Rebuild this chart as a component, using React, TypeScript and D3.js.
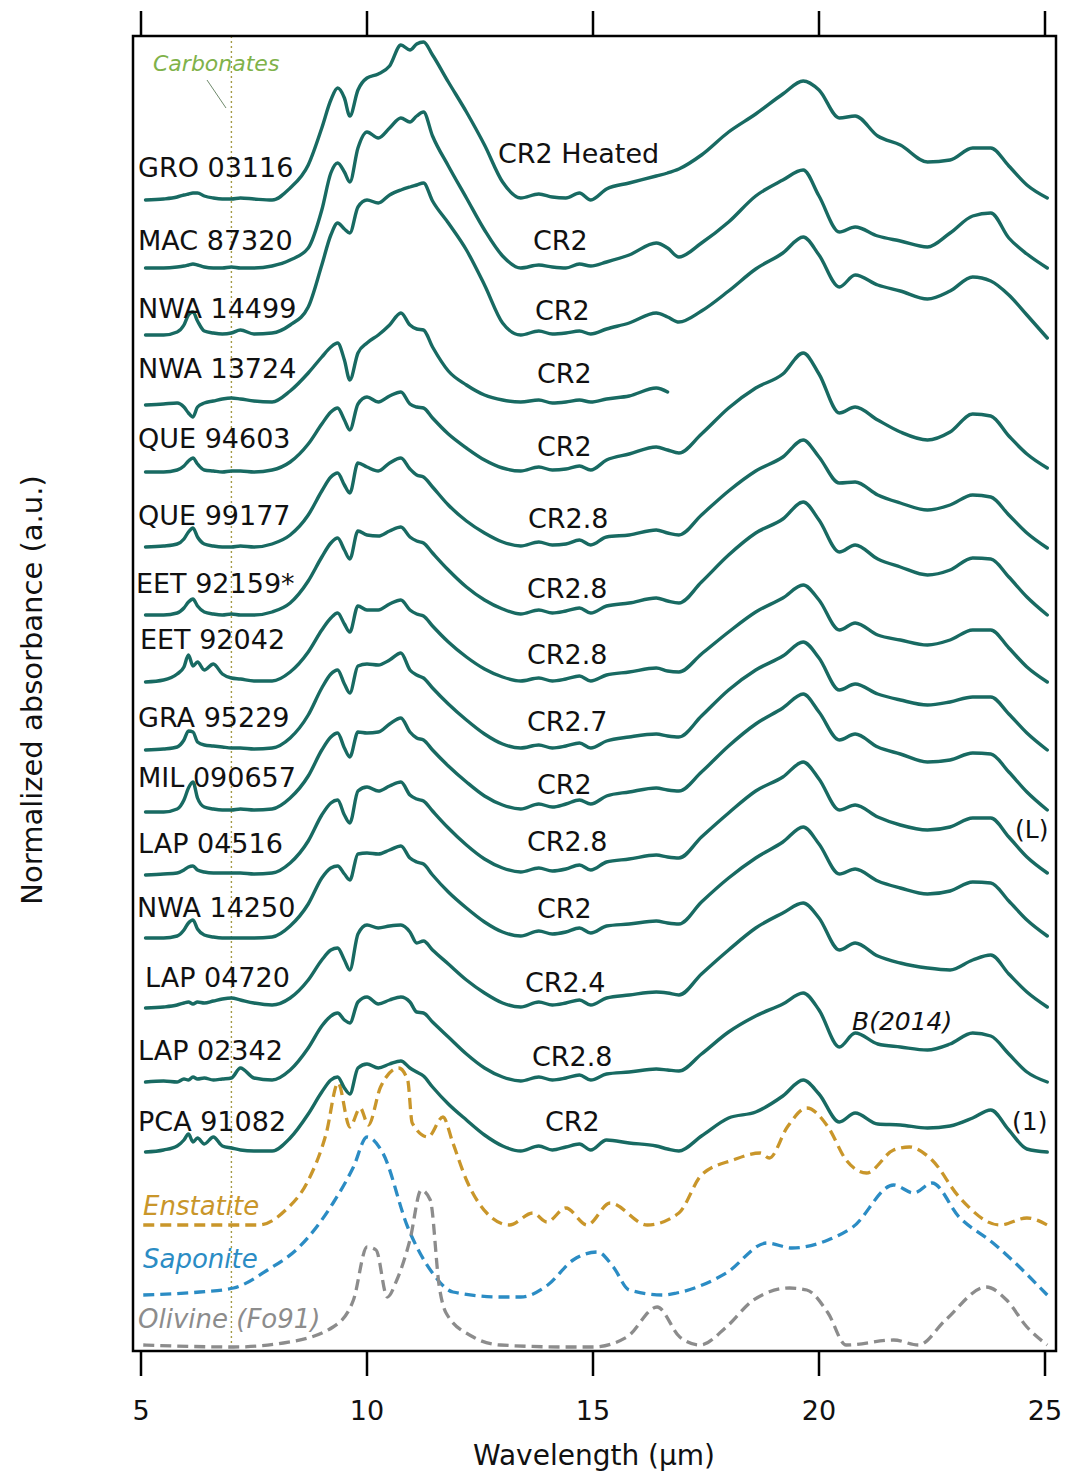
import React from 'react';
import * as d3 from 'd3';

// Shared wavelength grid (µm) for the CR chondrite spectra
const WAVELENGTH = [
  5.1, 5.5, 5.8, 5.95, 6.05, 6.15, 6.25, 6.4, 6.6, 6.8,
  7.0, 7.2, 7.5, 7.9, 8.3, 8.7, 9.0, 9.2, 9.35, 9.5,
  9.62, 9.8, 10.0, 10.25, 10.5, 10.75, 10.95, 11.1, 11.25, 11.45,
  11.8, 12.2, 12.6, 13.0, 13.4, 13.8, 14.1, 14.4, 14.7, 14.95,
  15.3, 15.8, 16.4, 16.65, 16.9, 17.4, 18.0, 18.6, 19.2, 19.65,
  20.0, 20.45, 20.8, 21.3, 21.8, 22.4, 22.9, 23.4, 23.8, 24.2,
  24.6, 25.05,
];

const SAMPLES = [
  'GRO 03116', 'MAC 87320', 'NWA 14499', 'NWA 13724', 'QUE 94603', 'QUE 99177',
  'EET 92159*', 'EET 92042', 'GRA 95229', 'MIL 090657', 'LAP 04516', 'NWA 14250',
  'LAP 04720', 'LAP 02342', 'PCA 91082',
];
const GRADES = [
  'CR2 Heated', 'CR2', 'CR2', 'CR2', 'CR2', 'CR2.8', 'CR2.8', 'CR2.8', 'CR2.7',
  'CR2', 'CR2.8', 'CR2', 'CR2.4', 'CR2.8', 'CR2',
];
// vertical offsets of each stacked spectrum (a.u. x100)
const OFFSETS = [1151, 1083, 1016, 946, 879, 804, 736, 669, 601, 539, 476, 413, 343, 269, 199];

const GRO_03116 = [
  0, 1, 3, 5, 6, 7, 7, 4, 2, 1,
  1, 2, 1, 0, 12, 35, 72, 100, 112, 102,
  84, 110, 122, 126, 134, 155, 150, 156, 158, 145,
  118, 88, 55, 18, 2, 6, 3, 2, 7, 0,
  11, 17, 24, 27, 31, 45, 68, 86, 106, 119,
  110, 82, 84, 64, 55, 38, 40, 52, 52, 34,
  15, 2];
const MAC_87320 = [
  0, 0, 1, 2, 3, 4, 3, 1, 0, 0,
  1, 0, 0, 2, 8, 20, 58, 95, 105, 96,
  86, 120, 136, 130, 140, 150, 146, 152, 156, 132,
  102, 70, 38, 12, 0, 3, 1, 0, 4, 2,
  6, 13, 25, 20, 11, 25, 46, 72, 88, 98,
  72, 36, 41, 32, 27, 21, 35, 52, 55, 30,
  14, 0];
const NWA_14499 = [
  0, 0, 3, 10, 20, 23, 14, 4, 2, 1,
  2, 5, 1, 2, 10, 28, 70, 100, 112, 106,
  102, 128, 135, 132, 140, 145, 148, 150, 152, 134,
  112, 85, 50, 12, 0, 4, 1, 2, 4, 1,
  6, 12, 22, 18, 13, 24, 44, 66, 82, 98,
  80, 48, 60, 50, 44, 36, 44, 58, 54, 40,
  20, -3];
const NWA_13724 = [
  0, 1, 2, -2, -8, -12, -2, 2, 4, 6,
  7, 6, 4, 3, 14, 32, 48, 58, 62, 45,
  25, 52, 62, 70, 80, 92, 80, 76, 75, 58,
  34, 20, 10, 5, 3, 5, 2, 3, 5, 3,
  6, 9, 17, 13, null, null, null, null, null, null,
  null, null, null, null, null, null, null, null, null, null,
  null, null];
const QUE_94603 = [
  0, 0, 2, 6, 11, 14, 8, 2, 1, 0,
  1, 1, 0, 2, 10, 28, 48, 60, 64, 52,
  42, 68, 75, 70, 76, 80, 68, 65, 64, 54,
  38, 24, 12, 4, 1, 5, 2, 3, 6, 2,
  12, 18, 25, 22, 19, 38, 64, 84, 98, 119,
  98, 59, 65, 52, 40, 32, 40, 58, 56, 36,
  18, 4];
const QUE_99177 = [
  0, 1, 3, 8, 15, 19, 10, 3, 1, 0,
  0, 1, 0, 3, 12, 32, 56, 70, 74, 62,
  54, 84, 80, 76, 84, 89, 78, 72, 70, 60,
  42, 26, 14, 5, 1, 5, 2, 3, 7, 2,
  10, 12, 17, 14, 12, 32, 56, 76, 90, 107,
  90, 64, 65, 52, 44, 37, 42, 52, 50, 32,
  14, -1];
const EET_92159 = [
  0, 0, 2, 7, 13, 16, 9, 3, 1, 0,
  1, 0, 0, 3, 12, 34, 58, 72, 77, 65,
  56, 84, 80, 79, 84, 88, 78, 74, 72, 62,
  45, 28, 15, 6, 1, 5, 2, 4, 7, 2,
  9, 12, 17, 14, 12, 33, 60, 82, 96, 113,
  95, 63, 70, 56, 48, 40, 45, 57, 56, 38,
  18, 0];
const EET_92042 = [
  0, 2, 8, 15, 27, 16, 20, 12, 18, 8,
  4, 3, 1, 1, 10, 30, 52, 64, 69, 58,
  50, 76, 72, 72, 78, 82, 72, 68, 66, 56,
  40, 25, 13, 5, 1, 4, 1, 3, 6, 1,
  7, 10, 14, 11, 10, 28, 50, 70, 84, 97,
  82, 52, 59, 47, 42, 37, 42, 52, 52, 34,
  15, 0];
const GRA_95229 = [
  0, 1, 3, 10, 19, 18, 8, 5, 4, 3,
  2, 2, 1, 2, 12, 35, 62, 76, 80, 66,
  57, 84, 86, 85, 90, 97, 80, 75, 72, 62,
  46, 30, 16, 6, 2, 5, 2, 4, 7, 2,
  9, 13, 16, 14, 13, 34, 60, 80, 94, 108,
  92, 60, 66, 56, 50, 45, 48, 53, 53, 36,
  17, 0];
const MIL_090657 = [
  0, 0, 3, 12, 24, 30, 14, 5, 3, 2,
  2, 3, 2, 3, 14, 36, 62, 75, 79, 64,
  55, 80, 79, 80, 88, 94, 80, 74, 72, 62,
  46, 30, 16, 7, 3, 8, 5, 8, 12, 8,
  16, 20, 24, 22, 21, 40, 66, 88, 104, 118,
  100, 72, 78, 65, 58, 50, 52, 59, 58, 40,
  20, 2];
const LAP_04516 = [
  0, 1, 2, 5, 8, 9, 5, 3, 2, 2,
  2, 2, 1, 2, 12, 34, 60, 72, 75, 60,
  52, 84, 88, 84, 89, 93, 80, 76, 74, 64,
  47, 30, 16, 7, 3, 7, 4, 6, 10, 5,
  13, 16, 20, 18, 17, 38, 62, 84, 98, 113,
  96, 65, 70, 58, 50, 45, 48, 57, 57, 38,
  18, 2];
const NWA_14250 = [
  0, 0, 2, 8, 15, 18, 9, 3, 1, 0,
  0, 0, 0, 1, 12, 34, 60, 70, 72, 64,
  58, 84, 85, 84, 88, 92, 80, 76, 74, 63,
  46, 30, 16, 6, 2, 7, 4, 6, 10, 5,
  12, 14, 17, 15, 14, 36, 60, 80, 96, 111,
  94, 64, 69, 57, 50, 44, 47, 56, 55, 37,
  18, 2];
const LAP_04720 = [
  0, 1, 3, 5, 6, 4, 6, 5, 7, 9,
  10, 8, 5, 3, 10, 28, 48, 58, 60, 48,
  38, 74, 83, 80, 82, 83, 76, 65, 67, 58,
  44, 28, 15, 5, 1, 6, 3, 5, 8, 3,
  10, 13, 16, 15, 13, 34, 58, 80, 95, 105,
  90, 58, 65, 52, 45, 40, 38, 48, 53, 34,
  16, 1];
const LAP_02342 = [
  0, 1, 0, 3, 2, 5, 3, 4, 2, 3,
  4, 14, 4, 2, 12, 34, 56, 66, 69, 62,
  59, 80, 85, 78, 82, 85, 80, 70, 69, 60,
  45, 28, 14, 5, 1, 5, 2, 4, 7, 2,
  8, 10, 13, 12, 11, 28, 50, 66, 78, 89,
  72, 35, 49, 38, 35, 32, 38, 49, 46, 28,
  10, 0];
const PCA_91082 = [
  0, 2, 6, 12, 18, 10, 14, 8, 15, 6,
  4, 2, 1, 1, 14, 38, 60, 72, 75, 64,
  58, 84, 88, 84, 88, 91, 84, 80, 76, 65,
  48, 32, 17, 6, 1, 6, 2, 5, 8, 2,
  12, 9, 6, 3, 1, 16, 34, 40, 56, 72,
  58, 30, 39, 28, 27, 24, 26, 34, 42, 22,
  3, 0];

const SPECTRA = [
  GRO_03116, MAC_87320, NWA_14499, NWA_13724, QUE_94603, QUE_99177, EET_92159,
  EET_92042, GRA_95229, MIL_090657, LAP_04516, NWA_14250, LAP_04720, LAP_02342, PCA_91082,
];

// Reference minerals (absolute a.u. x100)
const ENSTATITE_WL = [5.05, 7.6, 8.2, 8.67, 9.1, 9.36, 9.62, 9.85, 10.03, 10.3, 10.7, 10.9, 11.0, 11.35, 11.68, 11.9, 12.2, 12.65, 13.15, 13.67, 13.98, 14.4, 14.87, 15.38, 16.2, 16.9, 17.4, 18.1, 18.7, 18.9, 19.3, 19.73, 20.2, 20.6, 21.05, 21.65, 22.0, 22.5, 23.1, 24.0, 24.6, 25.05];
const ENSTATITE = [126, 126, 141, 168, 218, 268, 224, 243, 226, 264, 283, 271, 228, 214, 234, 208, 171, 138, 126, 138, 129, 143, 126, 148, 126, 138, 176, 191, 198, 193, 224, 243, 224, 191, 178, 201, 204, 191, 154, 126, 133, 126];
const SAPONITE_WL = [5.05, 6.3, 7.05, 7.8, 8.5, 9.25, 9.7, 10.0, 10.35, 10.9, 11.45, 11.9, 12.95, 13.4, 14.0, 14.56, 15.1, 15.45, 15.8, 16.55, 16.85, 17.95, 18.85, 19.4, 20.2, 20.75, 21.65, 22.1, 22.5, 23.1, 23.85, 24.2, 25.05];
const SAPONITE = [56, 59, 63, 81, 104, 148, 184, 214, 198, 124, 78, 59, 54, 54, 66, 91, 99, 84, 61, 56, 58, 78, 108, 103, 111, 124, 166, 158, 168, 134, 108, 94, 56];
const OLIVINE_WL = [5.05, 7.05, 8.15, 9.25, 9.7, 10.0, 10.2, 10.45, 10.66, 10.95, 11.2, 11.4, 11.6, 11.75, 12.35, 12.95, 14.4, 15.0, 15.75, 16.42, 16.92, 17.37, 17.95, 18.55, 19.35, 19.73, 20.2, 20.6, 21.65, 22.2, 22.8, 23.7, 24.15, 24.6, 25.05];
const OLIVINE = [6, 4, 8, 24, 51, 104, 101, 54, 71, 111, 161, 151, 64, 38, 14, 6, 4, 4, 14, 44, 14, 6, 24, 51, 63, 61, 38, 6, 11, 6, 31, 64, 51, 24, 6];

const REFERENCE_NAMES = ['Enstatite', 'Saponite', 'Olivine (Fo91)'];
const X_TICKS = [5, 10, 15, 20, 25];
const CARBONATE_BAND = 7.0;

// ---- layout (pixels) ----
const SAMPLE_LABEL_X = [138, 138, 138, 138, 138, 138, 136, 140, 138, 138, 138, 137, 145, 138, 138];
const SAMPLE_LABEL_Y = [177, 250, 318, 378, 448, 525, 593, 649, 727, 787, 853, 917, 987, 1060, 1131];
const GRADE_X = [498, 533, 535, 537, 537, 528, 527, 527, 527, 537, 527, 537, 525, 532, 545];
const GRADE_Y = [163, 250, 320, 383, 456, 528, 598, 664, 731, 794, 851, 918, 992, 1066, 1131];
const REF_LABEL = [
  { x: 143, y: 1215, color: '#c9962a' },
  { x: 143, y: 1268, color: '#2b8cc4' },
  { x: 138, y: 1328, color: '#8c8c8c' },
];

const TEAL = '#186a62';
const FONT = "'DejaVu Sans', 'Liberation Sans', Arial, sans-serif";

export default function App() {
  const x = d3.scaleLinear().domain([5, 25]).range([141, 1045]);
  const y = d3.scaleLinear().domain([0, 1315]).range([1351, 36]);

  const mkLine = (offset: number) =>
    d3
      .line<[number, number | null]>()
      .defined((d) => d[1] !== null && d[1] !== undefined)
      .x((d) => x(d[0]))
      .y((d) => y((d[1] as number) + offset))
      .curve(d3.curveMonotoneX);

  const refs = [
    { wl: ENSTATITE_WL, v: ENSTATITE },
    { wl: SAPONITE_WL, v: SAPONITE },
    { wl: OLIVINE_WL, v: OLIVINE },
  ];

  const frameL = 133, frameT = 36, frameR = 1056, frameB = 1351;

  return (
    <svg
      width={1069}
      height={1475}
      style={{ position: 'absolute', left: 0, top: 0, background: '#fff' }}
      fontFamily={FONT}
    >
      {/* carbonate dotted line */}
      <line
        x1={x(CARBONATE_BAND)} x2={x(CARBONATE_BAND)} y1={frameT} y2={frameB}
        stroke="#a49a44" strokeWidth={1.4} strokeDasharray="2 3"
      />
      <line x1={207} y1={80} x2={226} y2={108} stroke="#6f8a6c" strokeWidth={1} />
      <text x={153} y={71} fontSize={22} fontStyle="italic" fill="#7fb24a">Carbonates</text>

      {/* reference minerals */}
      {refs.map((r, i) => (
        <path
          key={'ref' + i}
          d={mkLine(0)(r.wl.map((w, j) => [w, r.v[j]] as [number, number])) || ''}
          fill="none"
          stroke={REF_LABEL[i].color}
          strokeWidth={3.3}
          strokeDasharray="11 6"
        />
      ))}

      {/* spectra */}
      {SPECTRA.map((s, i) => (
        <path
          key={'s' + i}
          d={mkLine(OFFSETS[i])(WAVELENGTH.map((w, j) => [w, s[j]] as [number, number | null])) || ''}
          fill="none"
          stroke={TEAL}
          strokeWidth={3.4}
          strokeLinejoin="round"
          strokeLinecap="round"
        />
      ))}

      {/* sample labels */}
      {SAMPLES.map((n, i) => (
        <text key={'n' + i} x={SAMPLE_LABEL_X[i]} y={SAMPLE_LABEL_Y[i]} fontSize={27} fill="#111">{n}</text>
      ))}
      {GRADES.map((g, i) => (
        <text key={'g' + i} x={GRADE_X[i]} y={GRADE_Y[i]} fontSize={27} fill="#111">{g}</text>
      ))}
      <text x={1015} y={838} fontSize={25} fill="#111">(L)</text>
      <text x={1012} y={1130} fontSize={25} fill="#111">(1)</text>
      <text x={852} y={1030} fontSize={25} fontStyle="italic" fill="#111">B(2014)</text>

      {REFERENCE_NAMES.map((n, i) => (
        <text key={'r' + i} x={REF_LABEL[i].x} y={REF_LABEL[i].y} fontSize={26} fontStyle="italic" fill={REF_LABEL[i].color}>{n}</text>
      ))}

      {/* frame */}
      <rect x={frameL} y={frameT} width={frameR - frameL} height={frameB - frameT} fill="none" stroke="#000" strokeWidth={2.5} />
      {X_TICKS.map((t) => (
        <g key={'t' + t}>
          <line x1={x(t)} x2={x(t)} y1={frameT} y2={11} stroke="#000" strokeWidth={2.5} />
          <line x1={x(t)} x2={x(t)} y1={frameB} y2={1376} stroke="#000" strokeWidth={2.5} />
          <text x={x(t)} y={1420} fontSize={27} textAnchor="middle" fill="#111">{t}</text>
        </g>
      ))}
      <text x={594} y={1465} fontSize={28} textAnchor="middle" fill="#111">Wavelength (µm)</text>
      <text
        transform="translate(42,690) rotate(-90)"
        fontSize={29}
        textAnchor="middle"
        fill="#111"
      >
        Normalized absorbance (a.u.)
      </text>
    </svg>
  );
}
